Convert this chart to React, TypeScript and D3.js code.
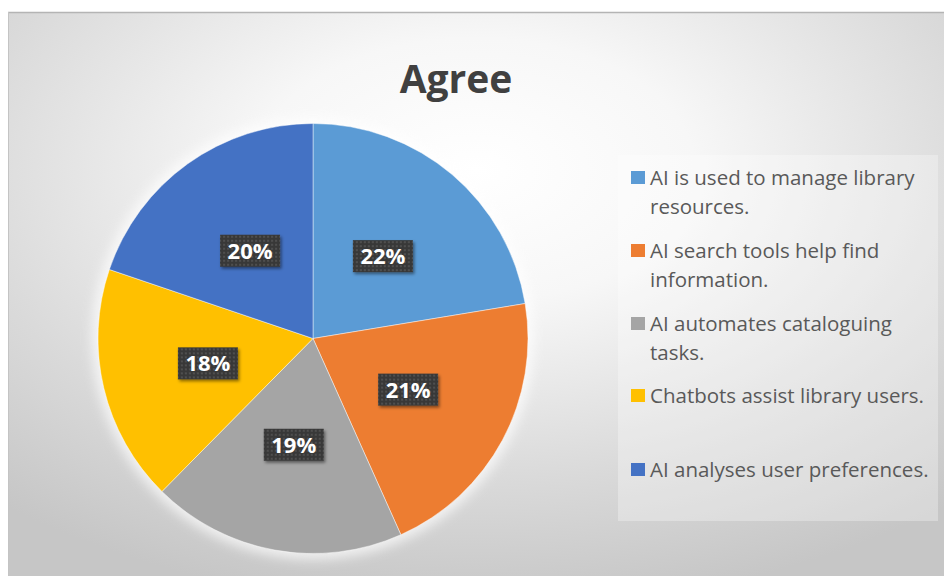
import React from "react";
import * as d3 from "d3";

const title = "Agree";
const categories = [
  "AI is used to manage library resources.",
  "AI search tools help find information.",
  "AI automates cataloguing tasks.",
  "Chatbots assist library users.",
  "AI analyses user preferences.",
];
const legendLines = [
  ["AI is used to manage library", "resources."],
  ["AI search tools help find", "information."],
  ["AI automates cataloguing", "tasks."],
  ["Chatbots assist library users."],
  ["AI analyses user preferences."],
];
const values = [22.4, 20.9, 19.1, 17.8, 19.8];
const labels = ["22%", "21%", "19%", "18%", "20%"];
const colors = ["#5B9BD5", "#ED7D31", "#A5A5A5", "#FFC000", "#4472C4"];

const W = 944;
const H = 576;
const cx = 313;
const cy = 338.5;
const R = 215;
const FONT = "'Open Sans', 'Noto Sans', sans-serif";

export default function App() {
  const pie = d3.pie<number>().sort(null).value((d) => d)(values);
  const arc = d3.arc<d3.PieArcDatum<number>>().innerRadius(0).outerRadius(R);
  const labelArc = d3.arc<d3.PieArcDatum<number>>().innerRadius(216).outerRadius(216);
  const legendBaselines = [185, 258, 331, 403, 477];

  return (
    <svg
      width={W}
      height={H}
      style={{ position: "absolute", left: 0, top: 0 }}
      xmlns="http://www.w3.org/2000/svg"
    >
      <defs>
        <radialGradient id="bg" cx="0.5" cy="0.28" r="0.78" fx="0.5" fy="0.28">
          <stop offset="0" stopColor="#ffffff" />
          <stop offset="0.3" stopColor="#f7f7f7" />
          <stop offset="0.7" stopColor="#dadada" />
          <stop offset="1" stopColor="#c6c6c6" />
        </radialGradient>
        <pattern id="dots" width="4" height="4" patternUnits="userSpaceOnUse">
          <rect width="4" height="4" fill="#383838" />
          <circle cx="2" cy="2" r="1.1" fill="#555555" />
        </pattern>
        <filter id="glow" x="-20%" y="-20%" width="140%" height="140%">
          <feGaussianBlur stdDeviation="6" />
        </filter>
        <filter id="shadow" x="-30%" y="-30%" width="160%" height="160%">
          <feDropShadow dx="1.5" dy="2" stdDeviation="1.5" floodColor="#000" floodOpacity="0.45" />
        </filter>
      </defs>
      <rect x={0} y={0} width={W} height={H} fill="#ffffff" />
      <rect x={8} y={12} width={W - 8} height={H - 12} fill="url(#bg)" />
      <line x1={8} x2={W} y1={12.5} y2={12.5} stroke="#b4b4b4" strokeWidth={1.5} />
      <line x1={8.5} x2={8.5} y1={12} y2={H} stroke="#c4c4c4" strokeWidth={1} />

      <text
        x={456}
        y={93}
        textAnchor="middle"
        fontFamily={FONT}
        fontWeight={700}
        fontSize={39}
        fill="#404040"
      >
        {title}
      </text>

      <circle cx={cx} cy={cy} r={R + 6} fill="#ffffff" opacity={0.7} filter="url(#glow)" />
      <g transform={`translate(${cx},${cy})`}>
        {pie.map((p, i) => (
          <path
            key={categories[i]}
            d={arc(p) || ""}
            fill={colors[i]}
            stroke="#ffffff"
            strokeOpacity={0.45}
            strokeWidth={1}
          />
        ))}
        {pie.map((p, i) => {
          const [lx, ly] = labelArc.centroid(p);
          const bw = 60;
          const bh = 32;
          return (
            <g key={"l" + i} transform={`translate(${lx / 2},${ly / 2})`}>
              <rect
                x={-bw / 2}
                y={-bh / 2}
                width={bw}
                height={bh}
                fill="url(#dots)"
                filter="url(#shadow)"
              />
              <text
                x={0}
                y={8}
                textAnchor="middle"
                fontFamily={FONT}
                fontWeight={700}
                fontSize={22}
                fill="#ffffff"
              >
                {labels[i]}
              </text>
            </g>
          );
        })}
      </g>

      <rect x={618} y={155} width={320} height={366} fill="#ffffff" opacity={0.3} />
      {legendLines.map((lines, i) => (
        <g key={"lg" + i}>
          <rect x={631} y={legendBaselines[i] - 14} width={14} height={13} fill={colors[i]} />
          {lines.map((ln, j) => (
            <text
              key={j}
              x={650}
              y={legendBaselines[i] + j * 29}
              fontFamily={FONT}
              fontSize={20.5}
              fill="#595959"
            >
              {ln}
            </text>
          ))}
        </g>
      ))}
    </svg>
  );
}
